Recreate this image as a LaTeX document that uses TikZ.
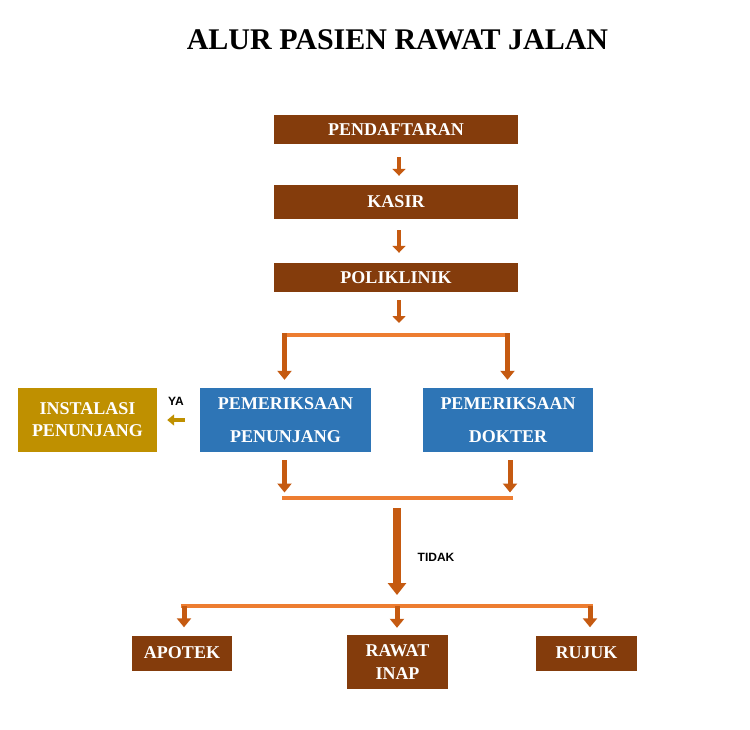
\documentclass[tikz,border=0pt]{standalone}
\usepackage{fontspec}
\setmainfont{Liberation Serif}
\newfontfamily\labelfont{Liberation Sans}
\usetikzlibrary{arrows.meta}
\definecolor{brownbox}{HTML}{843C0C}
\definecolor{bluebox}{HTML}{2E75B6}
\definecolor{goldbox}{HTML}{BF9000}
\definecolor{lineorange}{HTML}{ED7D31}
\definecolor{arroworange}{HTML}{C55A11}
\tikzset{
  box/.style={rectangle, inner sep=0pt, text=white, align=center,
    font=\bfseries\fontsize{18}{33}\selectfont},
  brownb/.style={box, fill=brownbox},
  blueb/.style={box, fill=bluebox},
  goldb/.style={box, fill=goldbox, font=\bfseries\fontsize{18}{22}\selectfont},
  smallarr/.style={draw=arroworange, line width=4.5pt, -{Triangle[width=13pt,length=7pt]}, color=arroworange},
  midarr/.style={draw=arroworange, line width=5pt, -{Triangle[width=14pt,length=9pt]}, color=arroworange},
  bigarr/.style={draw=arroworange, line width=8pt, -{Triangle[width=18pt,length=12pt]}, color=arroworange},
  yaarr/.style={draw=goldbox, line width=4.5pt, -{Triangle[width=11pt,length=7pt]}, color=goldbox},
  hline/.style={draw=lineorange, line width=4pt},
  lbl/.style={font=\labelfont\bfseries\fontsize{12}{14}\selectfont, text=black, inner sep=0pt}
}
\begin{document}
\begin{tikzpicture}[x=1pt,y=-1pt]
\useasboundingbox (0,0) rectangle (750,729);
\fill[white] (0,0) rectangle (750,729);

\node[font=\bfseries\fontsize{30}{34}\selectfont, inner sep=0pt] (title) at (397.5,40) {ALUR PASIEN RAWAT JALAN};

\node[brownb, minimum width=244pt, minimum height=29pt] (pend) at (396,129.5) {PENDAFTARAN};
\node[brownb, minimum width=244pt, minimum height=34pt] (kasir) at (396,202) {KASIR};
\node[brownb, minimum width=244pt, minimum height=29pt] (poli) at (396,277.5) {POLIKLINIK};

\node[blueb, minimum width=171pt, minimum height=64pt] (pp) at (285.5,420) {PEMERIKSAAN\\PENUNJANG};
\node[blueb, minimum width=170pt, minimum height=64pt] (pd) at (508,420) {PEMERIKSAAN\\DOKTER};
\node[goldb, minimum width=139pt, minimum height=64pt] (ip) at (87.5,420) {INSTALASI\\PENUNJANG};

\node[brownb, minimum width=100pt, minimum height=35pt] (apotek) at (182,653) {APOTEK};
\node[brownb, minimum width=101pt, minimum height=54pt, font=\bfseries\fontsize{18}{23}\selectfont] (inap) at (397.5,662) {RAWAT\\INAP};
\node[brownb, minimum width=101pt, minimum height=35pt] (rujuk) at (586.5,653) {RUJUK};

% top chain
\coordinate (a1s) at (399,157);
\coordinate (a2s) at (399,230);
\coordinate (a3s) at (399,300);
\coordinate (a3e) at (399,323);
\draw[smallarr] (a1s) -- ([yshift=9pt]a1s |- kasir.north);
\draw[smallarr] (a2s) -- ([yshift=10pt]a2s |- poli.north);
\draw[smallarr] (a3s) -- (a3e);

% split to two examinations
\coordinate (sl) at (284.5,335);
\coordinate (sr) at (507.5,335);
\draw[hline] ([xshift=-2.5pt]sl) -- ([xshift=2.5pt]sr);
\draw[midarr] ([yshift=2pt]sl) -- ([yshift=8pt]sl |- pp.north);
\draw[midarr] ([yshift=2pt]sr) -- ([yshift=8pt]sr |- pd.north);

% YA
\draw[yaarr] ([xshift=-15pt]pp.west) -- ([xshift=10pt]ip.east);
\node[lbl] (ya) at (176,401) {YA};

% join
\coordinate (jl) at (284.5,497.5);
\coordinate (jr) at (510,497.5);
\draw[midarr] ([yshift=-8pt]jl |- pp.south) -- ([yshift=5pt]jl);
\draw[midarr] ([yshift=-8pt]jr |- pd.south) -- ([yshift=5pt]jr);
\draw[hline] ([xshift=-2.5pt]jl) -- ([xshift=2.5pt]jr);

% TIDAK
\coordinate (t1) at (397,508);
\coordinate (t2) at (397,595);
\draw[bigarr] (t1) -- (t2);
\node[lbl] (tidak) at (436,557) {TIDAK};

% final split
\coordinate (fl) at (184,606);
\coordinate (fm) at (397,606);
\coordinate (fr) at (590,606);
\draw[hline] ([xshift=-3pt]fl) -- ([xshift=3pt]fr);
\draw[midarr] (fl) -- ([yshift=8pt]fl |- apotek.north);
\draw[midarr] (fm) -- ([yshift=7pt]fm |- inap.north);
\draw[midarr] (fr) -- ([yshift=8pt]fr |- rujuk.north);
\end{tikzpicture}
\end{document}
